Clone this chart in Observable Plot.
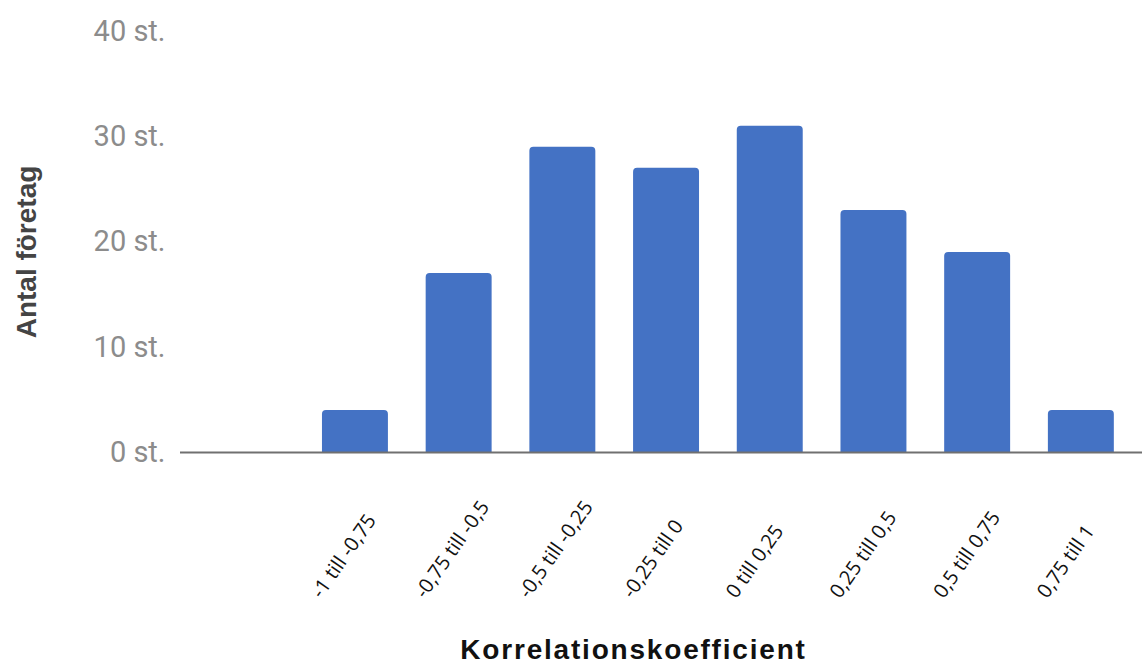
<!DOCTYPE html>
<html>
<head>
<meta charset="utf-8">
<script src="https://cdn.jsdelivr.net/npm/d3@7"></script>
<script src="https://cdn.jsdelivr.net/npm/@observablehq/plot@0.6"></script>
<style>
  html, body { margin: 0; padding: 0; background: #fff; }
  #chart svg { display: block; }
</style>
</head>
<body>
<div id="chart"></div>
<script>
// Correlation-coefficient bins and number of companies in each
const categories = [
  "-1 till -0,75", "-0,75 till -0,5", "-0,5 till -0,25", "-0,25 till 0",
  "0 till 0,25", "0,25 till 0,5", "0,5 till 0,75", "0,75 till 1"
];
const counts = [4, 17, 29, 27, 31, 23, 19, 4];
const yTicks = [0, 10, 20, 30, 40];
const yTitle = "Antal företag";
const xTitle = "Korrelationskoefficient";

const data = categories.map((bin, i) => ({bin, count: counts[i]}));

const chart = Plot.plot({
  width: 1142,
  height: 665,
  marginTop: 31,
  marginBottom: 213,
  marginLeft: 180,
  marginRight: 0,
  style: {background: "#fff"},
  x: {
    type: "band", domain: categories, range: [303.3, 1132.5],
    paddingInner: 0.364, paddingOuter: 0.18, round: false, axis: null
  },
  y: {domain: [0, 40], axis: null},
  marks: [
    Plot.barY(data, {x: "bin", y: "count", fill: "#4472c4", ry1: 4}),
    Plot.ruleY([0], {stroke: "#707070", strokeWidth: 2}),
    Plot.axisY({
      ticks: yTicks, tickSize: 0, tickPadding: 15, label: null,
      tickFormat: d => `${d} st.`,
      fontSize: 29, fontFamily: "Roboto", color: "#8c8c8c"
    }),
    // rotated bin labels under the bars
    Plot.text(categories, {
      x: d => d, text: d => d, frameAnchor: "bottom",
      rotate: -55, textAnchor: "start", lineAnchor: "bottom",
      dx: -34, dy: 147, fontSize: 20, fontFamily: "Open Sans", fill: "#111"
    }),
    Plot.text([yTitle], {
      text: d => d, frameAnchor: "left", textAnchor: "middle", rotate: -90,
      dx: -153, dy: 10, fontSize: 28, fontWeight: "bold",
      fontFamily: "Liberation Sans", fill: "#444"
    }),
    Plot.text([xTitle], {
      text: d => d, frameAnchor: "bottom", textAnchor: "middle", lineAnchor: "bottom",
      dx: -28, dy: 206, fontSize: 28, fontWeight: "bold",
      fontFamily: "Liberation Sans", fill: "#111"
    })
  ]
});

// widen the x-axis title a little
d3.select(chart).selectAll("text")
  .filter(function () { return this.textContent === xTitle; })
  .attr("letter-spacing", "1.8px");

document.getElementById("chart").appendChild(chart);
</script>
</body>
</html>
